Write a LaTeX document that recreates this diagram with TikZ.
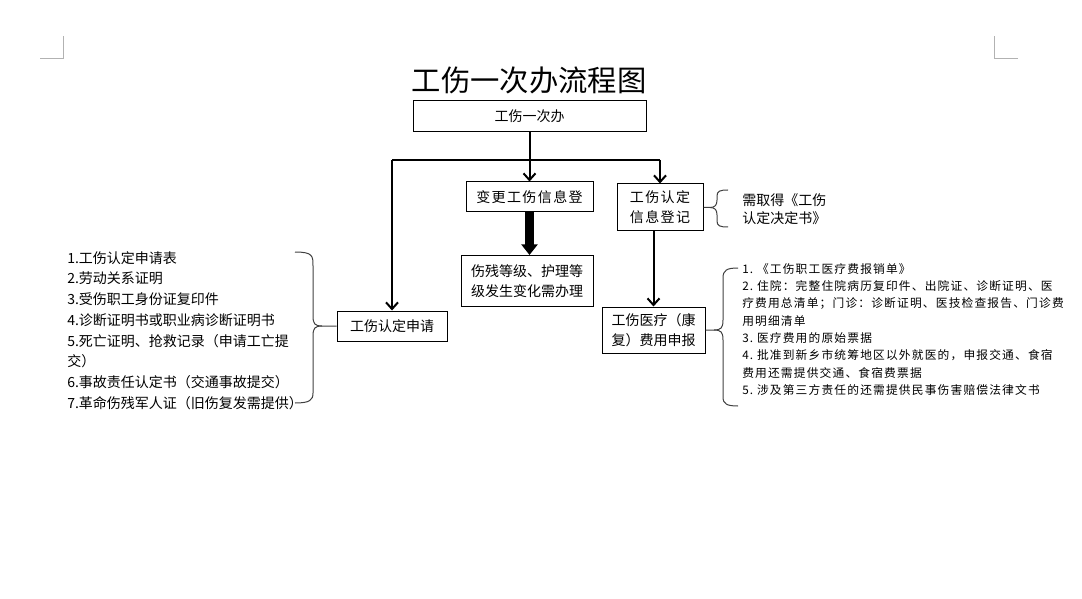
\documentclass[tikz,border=0pt]{standalone}
\usepackage{fontspec}
\setmainfont{Noto Sans CJK SC}
\newfontfamily\widecjk[LetterSpace=10]{Noto Sans CJK SC}
\usetikzlibrary{arrows.meta,positioning}

\tikzset{
  flowbox/.style = {draw, line width=0.75pt, inner sep=0pt, align=center, font=\fontsize{10.5}{15}\selectfont},
  link/.style = {line width=1.5pt},
  arr/.style = {line width=1.5pt, -{Straight Barb[length=5pt,width=9pt]}},
  fat/.style = {line width=6.75pt, -{Triangle[length=8pt,width=12pt]}},
  brace/.style = {line width=0.75pt, black!75},
  listline/.style = {anchor=west, inner sep=0pt, font=\fontsize{10.5}{12}\selectfont},
  noteline/.style = {anchor=west, inner sep=0pt, font=\widecjk\fontsize{8.8}{10}\selectfont},
}

\begin{document}
\begin{tikzpicture}[x=0.75pt, y=-0.75pt]
\useasboundingbox (0,0) rectangle (1082,599);

% page corner marks
\draw[black!30, line width=0.75pt] (40,59) -- (63,59) -- (63,36);
\draw[black!30, line width=0.75pt] (1018,59) -- (994,59) -- (994,36);

\node (title) at (529,80) {\fontsize{22}{26}\selectfont 工伤一次办流程图};

% boxes
\node[flowbox, minimum width=174.75pt, minimum height=23.25pt] (top) at (529.5,116.5) {工伤一次办};
\node[flowbox, minimum width=95.25pt, minimum height=22.5pt, font=\widecjk\fontsize{10.5}{15}\selectfont] (change) at (529.5,197) {变更工伤信息登};
\node[flowbox, minimum width=99pt, minimum height=38.25pt] (grade) at (527,281) {伤残等级、护理等\\级发生变化需办理};
\node[flowbox, minimum width=64.5pt, minimum height=35.25pt, font=\widecjk\fontsize{10.5}{15}\selectfont] (reg) at (660,207.5) {工伤认定\\信息登记};
\node[flowbox, minimum width=77.25pt, minimum height=34.5pt] (med) at (653.5,330) {工伤医疗（康\\复）费用申报};
\node[flowbox, minimum width=82.5pt, minimum height=22.5pt] (apply) at (392,326) {工伤认定申请};

% connectors
\coordinate (split) at (529.5,160);
\draw[link] (top) -- (split);
\draw[link] (apply.north |- split) -- (reg.north |- split);
\draw[arr] (apply.north |- split) -- (apply.north);
\draw[arr] (split) -- (change.north);
\draw[arr] (reg.north |- split) -- (reg.north);
\draw[fat] (change.south) -- (change.south |- grade.north);
\draw[arr] (reg.south -| med.north) -- (med.north);

% left list
\foreach \txt [count=\i] in {{1.工伤认定申请表}, {2.劳动关系证明}, {3.受伤职工身份证复印件},
    {4.诊断证明书或职业病诊断证明书}, {5.死亡证明、抢救记录（申请工亡提}, {交）},
    {6.事故责任认定书（交通事故提交）}, {7.革命伤残军人证（旧伤复发需提供）}}
  \node[listline] (l\i) at (67,{237.3+20.7*\i}) {\txt};

\draw[brace] (295,252) .. controls (313,252) and (313,256) .. (313,266) -- (313,316)
  .. controls (313,324) and (315,326) .. (322,326) -- (apply.west);
\draw[brace] (322,326) .. controls (315,326) and (313,328) .. (313,336) -- (313,393)
  .. controls (313,400) and (310,403) .. (295,403);

% note on registration
\node[listline] (n1) at (742,200) {需取得《工伤};
\node[listline] (n2) at (742,218) {认定决定书》};
\draw[brace] (reg.east) -- (710,207.5) .. controls (715,207.5) and (717,205) .. (717,200) -- (717,196)
  .. controls (717,191) and (720,190) .. (728,190);
\draw[brace] (710,207.5) .. controls (715,207.5) and (717,210) .. (717,215) -- (717,221)
  .. controls (717,226) and (720,227) .. (728,227);

% right list
\foreach \txt [count=\i] in {{1.\ 《工伤职工医疗费报销单》}, {2.\ 住院：完整住院病历复印件、出院证、诊断证明、医},
    {疗费用总清单；门诊：诊断证明、医技检查报告、门诊费}, {用明细清单}, {3.\ 医疗费用的原始票据},
    {4.\ 批准到新乡市统筹地区以外就医的，申报交通、食宿}, {费用还需提供交通、食宿费票据},
    {5.\ 涉及第三方责任的还需提供民事伤害赔偿法律文书}}
  \node[noteline] (r\i) at (742,{251.7+17.3*\i}) {\txt};

\draw[brace] (med.east) -- (714,330) .. controls (721,330) and (723,328) .. (723,320) -- (723,278)
  .. controls (723,270) and (727,268) .. (738,268);
\draw[brace] (714,330) .. controls (721,330) and (723,332) .. (723,340) -- (723,397)
  .. controls (723,404) and (727,406) .. (738,406);
\end{tikzpicture}
\end{document}
